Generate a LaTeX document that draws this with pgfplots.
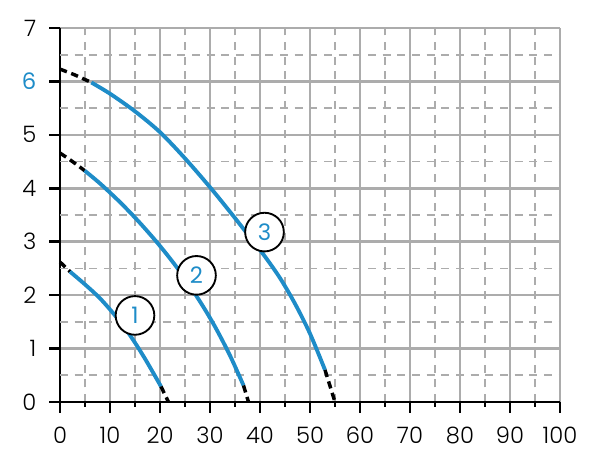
\documentclass[border=0pt]{standalone}
\usepackage{pgfplots}
\pgfplotsset{compat=1.18}
\usepackage{fontspec}
\setmainfont{Poppins Light}
\newfontfamily\numfont{Poppins}
\definecolor{pblue}{RGB}{30,140,200}
\definecolor{gridgray}{RGB}{172,172,172}
\begin{document}
\begin{tikzpicture}
\useasboundingbox (-45pt,-53.25pt) rectangle (405pt,301.5pt);
\begin{axis}[
  at={(0,0)}, anchor=south west,
  scale only axis, width=375pt, height=280.5pt,
  xmin=0, xmax=100, ymin=0, ymax=7,
  xtick={0,10,...,100}, ytick={0,1,...,7},
  yticklabels={0,1,2,3,4,5,\textcolor{pblue}{\numfont 6},7},
  minor xtick={5,15,...,95},
  axis x line*=bottom, axis y line*=left,
  axis line style={black, line width=2pt},
  xmajorgrids, ymajorgrids, xminorgrids,
  extra y ticks={0.5,1.5,...,6.5},
  extra y tick labels={},
  extra y tick style={major grid style={gridgray, line width=1.2pt, dash pattern=on 6pt off 5pt}},
  major grid style={gridgray, line width=2pt, solid},
  minor grid style={gridgray, line width=1.2pt, dash pattern=on 6pt off 5pt},
  major tick length=0pt, minor tick length=0pt,
  xticklabel shift=15pt,
  yticklabel shift=14.25pt,
  ticklabel style={font=\fontsize{17}{17}\selectfont},
  /pgf/number format/assume math mode=true,
  clip=false,
]
% tick marks
\pgfplotsinvokeforeach{0,10,...,100}{\addplot[black, line width=2pt, forget plot] coordinates {(#1,0) (#1,-0.21)};}
\pgfplotsinvokeforeach{5,15,...,95}{\addplot[black, line width=2pt, forget plot] coordinates {(#1,0) (#1,-0.095)};}
\pgfplotsinvokeforeach{0,...,7}{\addplot[black, line width=2pt, forget plot] coordinates {(0,#1) (-2.2,#1)};}
% curve 1
\addplot[black, line width=2.6pt, dash pattern=on 5.5pt off 3.5pt, smooth] coordinates {(0,2.62) (1,2.53) (2,2.44)};
\addplot[pblue, line width=2.9pt, smooth] coordinates {(2,2.44) (5,2.2) (8,1.94) (11,1.62) (14,1.25) (17,0.81) (20.2,0.29)};
\addplot[black, line width=2.6pt, dash pattern=on 5.5pt off 3.5pt] coordinates {(20.2,0.29) (21.7,0)};
% curve 2
\addplot[black, line width=2.6pt, dash pattern=on 5.5pt off 3.5pt, smooth] coordinates {(0,4.66) (2.5,4.5) (4.93,4.33)};
\addplot[pblue, line width=2.9pt, smooth] coordinates {(4.93,4.33) (8,4.09) (12,3.74) (16,3.35) (20,2.92) (24,2.44) (28,1.88) (31,1.41) (34,0.87) (36.7,0.31)};
\addplot[black, line width=2.6pt, dash pattern=on 5.5pt off 3.5pt] coordinates {(36.7,0.31) (37.7,0)};
% curve 3
\addplot[black, line width=2.6pt, dash pattern=on 5.5pt off 3.5pt, smooth] coordinates {(0,6.23) (3,6.12) (6.27,5.98)};
\addplot[pblue, line width=2.9pt, smooth] coordinates {(6.27,5.98) (10,5.77) (15,5.44) (20,5.05) (25,4.56) (30,4.02) (34,3.56) (37.2,3.18) (40.7,2.76) (44,2.32) (47,1.84) (50,1.28) (53,0.6)};
\addplot[black, line width=2.6pt, dash pattern=on 5.5pt off 3.5pt] coordinates {(53,0.6) (55,0)};
% labels
\tikzset{lab/.style={circle, draw=black, line width=1.4pt, fill=white, text=pblue, minimum size=29pt, inner sep=0pt, font=\numfont\fontsize{17}{17}\selectfont}}
\node[lab] at (axis cs:15,1.62) {1};
\node[lab] at (axis cs:27.3,2.37) {2};
\node[lab] at (axis cs:40.9,3.18) {3};
\end{axis}
\end{tikzpicture}
\end{document}
